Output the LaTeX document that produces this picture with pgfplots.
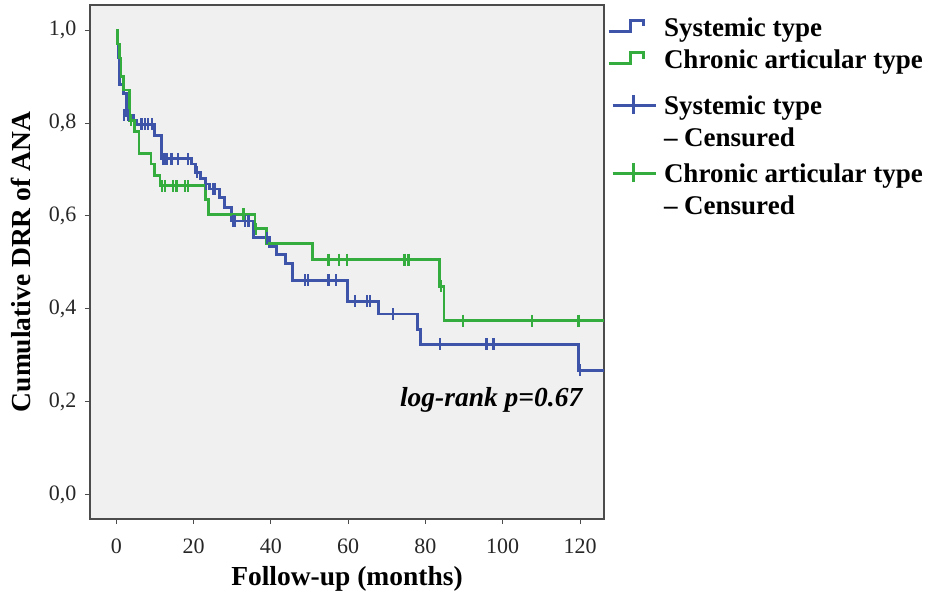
\documentclass[border=0pt]{standalone}
\usepackage{pgfplots}
\pgfplotsset{compat=1.18}
\usepackage{fontspec}
\setmainfont{Liberation Serif}
\definecolor{kmblue}{RGB}{62,84,168}
\definecolor{kmgreen}{RGB}{52,172,62}
\definecolor{bggray}{RGB}{240,240,240}
\newcommand\ls[1]{\rule{0pt}{#1pt}}
\begin{document}
\begin{tikzpicture}[x=1pt,y=1pt]
\useasboundingbox (0,0) rectangle (927,596);
\begin{axis}[
  at={(90pt,77pt)}, anchor=south west,
  scale only axis, width=514pt, height=514pt,
  xmin=-6.8, xmax=126.2, ymin=-0.052, ymax=1.054,
  axis background/.style={fill=bggray},
  axis line style={draw=black!70, line width=1.6pt},
  xtick={0,20,40,60,80,100,120},
  ytick={0,0.2,0.4,0.6,0.8,1},
  tick align=outside, xtick pos=left, ytick pos=left,
  major tick length=5pt,
  tick style={black!70, line width=1pt},
  /pgf/number format/assume math mode=true,
  ticklabel style={font=\fontsize{22}{22}\selectfont, text=black!85},
  x tick label style={yshift=-11pt},
  y tick label style={xshift=-5pt, /pgf/number format/.cd, fixed, fixed zerofill, precision=1, use comma},
  xlabel={Follow-up (months)},
  ylabel={Cumulative DRR of ANA},
  label style={font=\bfseries\fontsize{27.5}{27.5}\selectfont},
  xlabel style={yshift=-6pt},
  ylabel style={yshift=11pt},
  legend style={at={(1,1)}, anchor=north west, xshift=3pt, yshift=0pt,
    draw=none, fill=none, inner sep=0pt,
    font=\bfseries\fontsize{27}{30}\selectfont,
    row sep=0pt, column sep=6pt,
    nodes={inner sep=1pt, anchor=base west}},
  legend cell align=left,
]
\addplot[const plot, kmblue, line width=2.8pt,
  legend image code/.code={\draw[kmblue, line width=2.8pt] (0pt,5pt) -- (22pt,5pt) -- (22pt,16pt) -- (35pt,16pt) -- (35pt,10pt);}]
coordinates {
(0,1.0) (0.3,0.97) (0.5,0.94) (0.7,0.91) (0.8,0.883) (1.8,0.864) (2.7,0.817)
(4.4,0.806) (5.2,0.797) (9.9,0.773) (11.8,0.723) (19.5,0.712) (20.4,0.694)
(21.7,0.680) (23.0,0.669) (24.2,0.658) (26.8,0.640) (28.1,0.618) (29.8,0.589)
(35.6,0.553) (39.6,0.535) (41.5,0.517) (43.7,0.498) (45.6,0.462) (59.8,0.416)
(67.8,0.389) (77.9,0.355) (78.8,0.324) (119.6,0.268) (126.2,0.268)
};
\addlegendentry{Systemic type\ls{30}}
\addplot[const plot, kmgreen, line width=2.8pt,
  legend image code/.code={\draw[kmgreen, line width=2.8pt] (0pt,5pt) -- (22pt,5pt) -- (22pt,16pt) -- (35pt,16pt) -- (35pt,10pt);}]
coordinates {
(0,1.0) (0.4,0.97) (0.8,0.94) (1.2,0.90) (1.8,0.871) (3.5,0.806) (4.8,0.781)
(5.9,0.734) (9.0,0.712) (9.8,0.687) (11.3,0.665) (23.0,0.636) (23.8,0.604)
(35.9,0.573) (38.9,0.540) (50.8,0.506) (83.7,0.449) (84.8,0.375) (126.2,0.375)
};
\addlegendentry{Chronic articular type\ls{29}}
\addplot[only marks, mark=|, kmblue, mark size=6pt, mark options={line width=2.2pt},
  legend image code/.code={\draw[kmblue, line width=2.8pt] (4pt,9pt) -- (47pt,9pt); \draw[kmblue, line width=3pt] (25pt,0pt) -- (25pt,19pt);}]
coordinates {
(2.1,0.817) (3.1,0.817)
(6.5,0.797) (7.4,0.797) (8.2,0.797) (9.2,0.797)
(12.2,0.723) (13.0,0.723) (14.3,0.723) (16.0,0.723) (18.6,0.723)
(20.8,0.694) (23.3,0.669) (25.1,0.658) (25.5,0.658)
(30.2,0.589) (30.7,0.589) (33.3,0.589) (34.2,0.589)
(38.9,0.553)
(48.8,0.462) (49.7,0.462) (54.9,0.462) (56.9,0.462)
(61.7,0.416) (64.8,0.416) (65.7,0.416)
(71.7,0.389)
(83.7,0.324) (95.8,0.324) (97.6,0.324)
(119.9,0.268)
};
\addlegendentry{Systemic type\ls{42}}
\addlegendimage{empty legend}
\addlegendentry{-- Censured\ls{29}}
\addplot[only marks, mark=|, kmgreen, mark size=6pt, mark options={line width=2.2pt},
  legend image code/.code={\draw[kmgreen, line width=2.8pt] (4pt,9pt) -- (47pt,9pt); \draw[kmgreen, line width=3pt] (25pt,0pt) -- (25pt,19pt);}]
coordinates {
(3.9,0.806)
(11.8,0.665) (12.6,0.665) (14.7,0.665) (15.6,0.665) (17.7,0.665) (18.6,0.665)
(32.9,0.604) (36.1,0.573)
(54.9,0.506) (57.7,0.506) (59.6,0.506) (74.6,0.506) (75.6,0.506)
(84.0,0.449)
(89.8,0.375) (107.6,0.375) (119.6,0.375)
};
\addlegendentry{Chronic articular type\ls{32}}
\addlegendimage{empty legend}
\addlegendentry{-- Censured\ls{29}}
\node[font=\bfseries\itshape\fontsize{27.5}{27.5}\selectfont] at (axis cs:97,0.205) {log-rank p=0.67};
\end{axis}
\end{tikzpicture}
\end{document}
